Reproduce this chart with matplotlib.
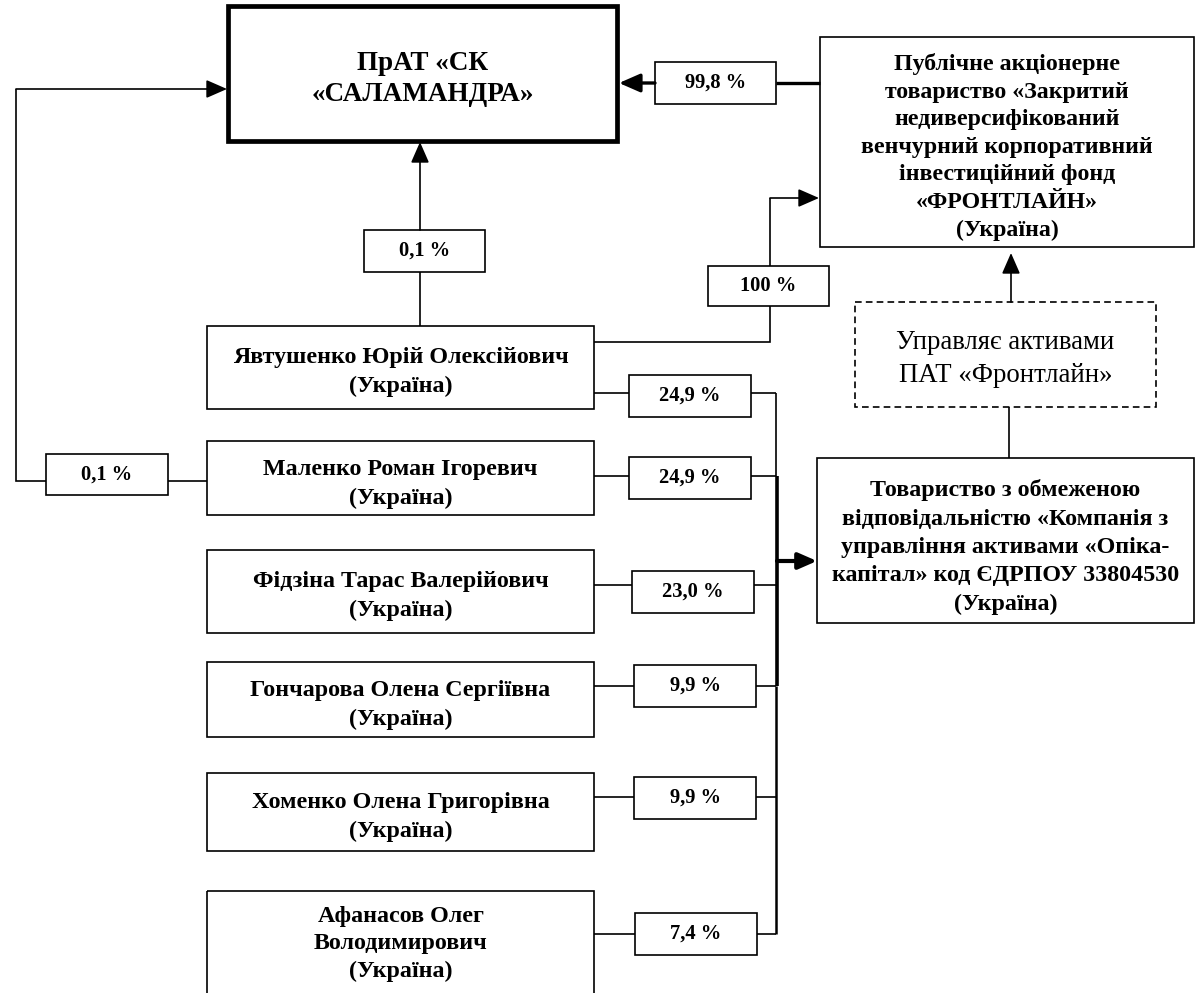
import matplotlib.pyplot as plt
from matplotlib.patches import Rectangle

# ownership data
top_company = "ПрАТ «СК\n«САЛАМАНДРА»"
fund_name = ("Публічне акціонерне\nтовариство «Закритий\nнедиверсифікований\n"
             "венчурний корпоративний\nінвестиційний фонд\n«ФРОНТЛАЙН»\n(Україна)")
manager_name = ("Товариство з обмеженою\nвідповідальністю «Компанія з\n"
                "управління активами «Опіка-\nкапітал» код ЄДРПОУ 33804530\n(Україна)")
manager_note = "Управляє активами\nПАТ «Фронтлайн»"
owners = ["Явтушенко Юрій Олексійович\n(Україна)",
          "Маленко Роман Ігоревич\n(Україна)",
          "Фідзіна Тарас Валерійович\n(Україна)",
          "Гончарова Олена Сергіївна\n(Україна)",
          "Хоменко Олена Григорівна\n(Україна)",
          "Афанасов Олег\nВолодимирович\n(Україна)"]
owner_shares = ["24,9 %", "24,9 %", "23,0 %", "9,9 %", "9,9 %", "7,4 %"]
fund_share = "99,8 %"
yavt_direct = "0,1 %"
malenko_direct = "0,1 %"
yavt_fund = "100 %"

# layout (pixels)
owner_top = [326, 441, 550, 662, 773, 891]
owner_bot = [409, 515, 633, 737, 851, 1010]
owner_text_y = [372, 484, 596, 705, 817, 944]
owner_lsp = [1.46, 1.46, 1.46, 1.46, 1.46, 1.37]
share_line_y = [393, 476, 585, 686, 797, 934]
share_box_x = [629, 629, 632, 634, 634, 635]
share_box_top = [375, 457, 571, 665, 777, 913]

FONT = "Liberation Serif"
LW = 1.2
PCT = 14.8

fig = plt.figure(figsize=(11.96, 9.93), dpi=100)
ax = fig.add_axes([0, 0, 1, 1])
ax.set_xlim(0, 1196)
ax.set_ylim(993, 0)
ax.axis("off")


def box(x0, y0, x1, y1, text, size=13, lw=LW, weight="bold", ls="-", ty=None, lsp=1.25):
    ax.add_patch(Rectangle((x0, y0), x1 - x0, y1 - y0, fill=False, lw=lw,
                           ls=ls, ec="black", joinstyle="miter"))
    if ty is None:
        ty = (y0 + y1) / 2
    ax.text((x0 + x1) / 2, ty, text, ha="center", va="center", fontsize=size,
            family=FONT, weight=weight, linespacing=lsp)


def line(xs, ys, lw=LW):
    ax.plot(xs, ys, color="black", lw=lw, solid_capstyle="butt", solid_joinstyle="miter")


def arrow(x0, y0, x1, y1, lw=LW, ms=16):
    ax.annotate("", xy=(x1, y1), xytext=(x0, y0),
                arrowprops=dict(arrowstyle="-|>,head_length=0.8,head_width=0.35",
                                lw=lw, color="black", shrinkA=0, shrinkB=0,
                                mutation_scale=ms))


# main company
box(228, 6, 617, 141, top_company, size=19.5, lw=3.4, ty=79, lsp=1.28)

# fund
box(820, 37, 1194, 247, fund_name, size=17.2, ty=147, lsp=1.41)
line([820, 776], [83, 83], lw=2.4)
box(655, 62, 776, 104, fund_share, size=PCT)
arrow(655, 83, 619, 83, lw=2.4)

# asset manager
box(817, 458, 1194, 623, manager_name, size=17.3, ty=547, lsp=1.46)
box(855, 302, 1156, 407, manager_note, size=19.3, weight="normal", ls=(0, (4, 2.5)),
    ty=359, lsp=1.45)
line([1009, 1009], [407, 458])
arrow(1011, 302, 1011, 253)

# owners
for name, top, bot, ty, lsp in zip(owners, owner_top, owner_bot, owner_text_y, owner_lsp):
    box(207, top, 594, bot, name, size=17.3, ty=ty, lsp=lsp)

for share, ly, bx, bt in zip(owner_shares, share_line_y, share_box_x, share_box_top):
    line([594, bx], [ly, ly])
    box(bx, bt, bx + 122, bt + 42, share, size=PCT)
    line([bx + 122, 776], [ly, ly])

# collecting bus to the asset manager
line([776, 776], [share_line_y[0], share_line_y[1]])
line([777, 777], [share_line_y[1], share_line_y[3]], lw=2.6)
line([776, 776], [share_line_y[3], share_line_y[5]], lw=1.8)
arrow(777, 561, 817, 561, lw=3, ms=14)

# Yavtushenko direct 0,1 %
line([420, 420], [326, 272])
box(364, 230, 485, 272, yavt_direct, size=PCT)
arrow(420, 230, 420, 142)

# Yavtushenko -> fund 100 %
line([594, 770, 770], [342, 342, 306])
box(708, 266, 829, 306, yavt_fund, size=PCT)
line([770, 770], [266, 198])
arrow(770, 198, 819, 198)

# Malenko direct 0,1 %
line([207, 168], [481, 481])
box(46, 454, 168, 495, malenko_direct, size=PCT)
line([46, 16, 16], [481, 481, 89])
arrow(16, 89, 227, 89)

fig.savefig("out.png", dpi=100)
